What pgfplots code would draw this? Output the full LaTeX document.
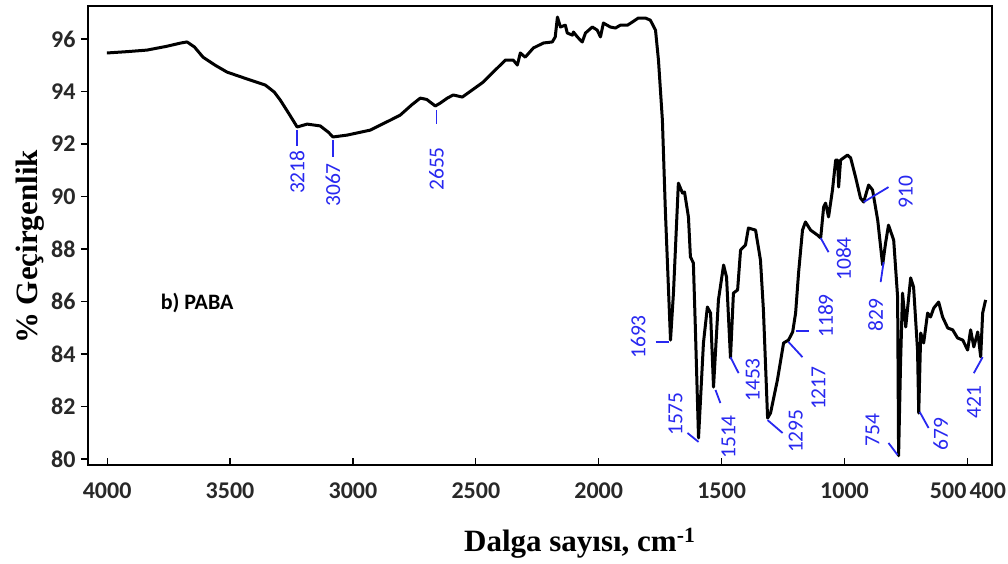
\documentclass[border=0pt]{standalone}
\usepackage{pgfplots}
\pgfplotsset{compat=1.18}
\usepackage{fontspec}
\setmainfont{Liberation Serif}
\newfontfamily\calib{Carlito}
\definecolor{pk}{RGB}{40,40,240}
\definecolor{tk}{RGB}{40,40,40}
% peak marker: line from (#1,#2) to (#3,#4), label #7 centred at (#5,#6)
\newcommand{\peak}[7]{%
  \draw[pk, line width=1.8pt] (axis cs:#1,#2) -- (axis cs:#3,#4);
  \node[pk, rotate=90, inner sep=0pt, font=\calib\fontsize{21.5}{21.5}\selectfont] at (axis cs:#5,#6) {#7};}
\begin{document}
\begin{tikzpicture}
\begin{axis}[
  width=904pt, height=459pt, scale only axis,
  x dir=reverse,
  xmin=400, xmax=4078, ymin=79.77, ymax=97.26,
  xtick={4000,3500,3000,2500,2000,1500,1000,500,400},
  xticklabels={4000,3500,3000,2500,2000,1500,1000,{\makebox[0pt][r]{500\hspace*{1pt}}},{\makebox[0pt][r]{400\hspace*{-14pt}}}},
  scaled x ticks=false,
  ytick={80,82,...,96},
  tick pos=left,
  axis line style={line width=1.8pt},
  every tick/.style={black, line width=1.2pt},
  xtick align=inside, ytick align=outside,
  major tick length=7pt,
  ticklabel style={font=\calib\bfseries\fontsize{24}{24}\selectfont, text=tk},
  /pgf/number format/assume math mode=true,
  xticklabel style={yshift=-14pt},
  yticklabel style={xshift=-2pt},
  xlabel={Dalga sayısı, cm\textsuperscript{-1}},
  ylabel={\% Geçirgenlik},
  label style={font=\bfseries\fontsize{31}{31}\selectfont},
  xlabel style={at={(axis description cs:0.544,-0.17)}, anchor=center},
  ylabel style={at={(axis description cs:-0.064,0.475)}, anchor=center},
  clip=false,
]
\addplot[black, line width=3pt, line join=round, no marks] coordinates {
(4001,95.47) (3920,95.52) (3838,95.58) (3760,95.72) (3700,95.85) (3675,95.89)
(3645,95.70) (3610,95.31) (3560,95.00) (3512,94.74) (3431,94.48)
(3357,94.25) (3320,93.98) (3296,93.68) (3260,93.15) (3227,92.65) (3186,92.76) (3133,92.69) (3100,92.45) (3081,92.27)
(3024,92.34) (2930,92.53) (2848,92.91) (2808,93.10) (2760,93.50) (2726,93.75) (2700,93.70) (2665,93.45)
(2645,93.56) (2616,93.75) (2592,93.87) (2555,93.79) (2470,94.36) (2380,95.20)
(2348,95.20) (2331,95.01) (2319,95.47) (2299,95.31) (2266,95.66) (2225,95.85)
(2189,95.89) (2177,96.08) (2168,96.84) (2156,96.46) (2136,96.53) (2128,96.23)
(2107,96.15) (2103,96.27) (2087,96.08) (2067,95.89) (2054,96.23) (2026,96.46)
(2006,96.34) (1993,96.08) (1981,96.61) (1953,96.46) (1932,96.42) (1912,96.53)
(1883,96.53) (1863,96.65) (1839,96.80) (1810,96.80) (1790,96.72) (1769,96.34)
(1757,95.20) (1741,92.91) (1729,89.48) (1708,84.53) (1696,86.32) (1676,90.51)
(1659,90.13) (1651,90.17) (1635,89.22) (1627,87.70) (1615,87.47) (1607,85.03)
(1594,80.80) (1574,84.42) (1558,85.79) (1545,85.56) (1533,82.74) (1513,86.06)
(1492,87.39) (1480,86.93) (1464,83.85) (1452,86.32) (1435,86.44) (1423,87.96)
(1403,88.15) (1391,88.80) (1362,88.72) (1342,87.58) (1330,85.68) (1313,81.56)
(1301,81.75) (1273,83.01) (1248,84.42) (1228,84.53) (1211,84.84) (1199,85.56)
(1187,87.09) (1171,88.72) (1159,89.03) (1138,88.72) (1110,88.53) (1097,88.42)
(1085,89.60) (1077,89.75) (1065,89.22) (1049,90.25) (1036,91.39) (1028,91.39)
(1024,90.36) (1016,91.39) (988,91.58) (975,91.47) (955,90.74) (935,89.94)
(922,89.79) (902,90.44) (886,90.25) (865,89.10) (845,87.39) (833,88.23)
(821,88.91) (800,88.34) (784,86.17) (780,80.12) (772,83.66) (764,86.32)
(751,85.03) (731,86.90) (719,86.55) (703,84.15) (698,81.75) (690,84.80)
(678,84.42) (662,85.56) (650,85.41) (637,85.75) (617,85.98) (601,85.41)
(580,84.99) (560,84.92) (540,84.61) (519,84.53) (499,84.15) (487,84.92)
(474,84.27) (458,84.84) (446,83.89) (438,85.56) (426,86.06)
};
\peak{3227}{92.53}{3227}{91.92}{3227}{90.93}{3218}
\peak{3081}{92.15}{3081}{91.50}{3081}{90.44}{3067}
\peak{2660}{93.29}{2660}{92.76}{2660}{91.05}{2655}
\peak{1769}{84.46}{1713}{84.46}{1839}{84.65}{1693}
\peak{1639}{80.99}{1594}{80.65}{1688}{81.71}{1575}
\peak{1525}{82.63}{1505}{82.13}{1472}{80.84}{1514}
\peak{1464}{83.88}{1431}{83.27}{1374}{83.01}{1453}
\peak{1313}{81.48}{1252}{80.99}{1199}{81.06}{1295}
\peak{1228}{84.46}{1171}{83.88}{1106}{82.70}{1217}
\peak{1199}{84.87}{1146}{84.87}{1077}{85.45}{1189}
\peak{1097}{88.42}{1065}{87.88}{1004}{87.62}{1084}
\peak{841}{87.50}{853}{86.74}{874}{85.48}{829}
\peak{922}{89.79}{821}{90.36}{751}{90.17}{910}
\peak{821}{80.61}{784}{80.15}{886}{81.10}{754}
\peak{694}{81.79}{658}{81.18}{609}{80.95}{679}
\peak{474}{83.27}{438}{83.88}{474}{82.17}{421}
\node[font=\calib\bfseries\fontsize{22}{22}\selectfont] at (axis cs:3634,85.94) {b) PABA};
\end{axis}
\pgfresetboundingbox
\useasboundingbox (-88pt,-98pt) rectangle (920pt,465pt);
\end{tikzpicture}
\end{document}
